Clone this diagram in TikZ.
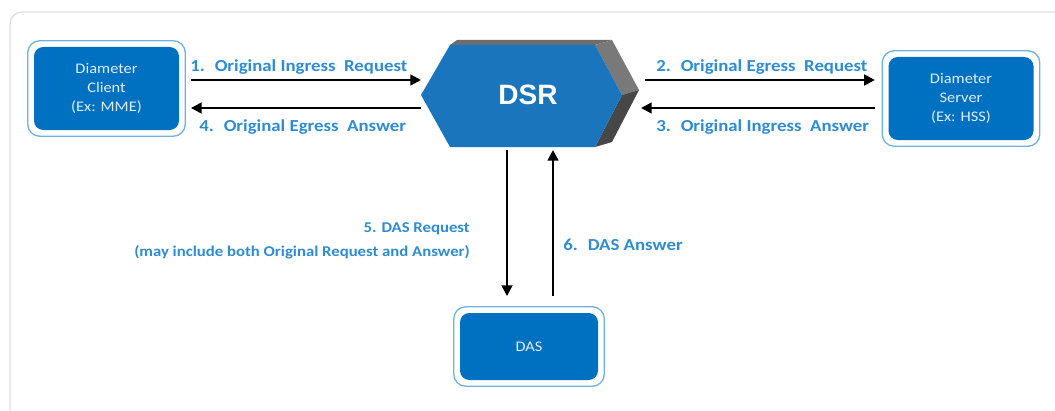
\documentclass[tikz,border=0pt]{standalone}
\usepackage{fontspec}
\setmainfont[FakeStretch=1.12]{Carlito}
\newfontfamily\dsrfont{Liberation Sans}
\usetikzlibrary{arrows.meta,fit}

\definecolor{boxblue}{RGB}{0,112,192}
\definecolor{ringblue}{RGB}{110,178,228}
\definecolor{dsrblue}{RGB}{27,117,188}
\definecolor{labelblue}{RGB}{45,140,210}
\definecolor{framegray}{RGB}{222,222,222}

\begin{document}
\begin{tikzpicture}[x=0.75pt,y=-0.75pt,
    unitbox/.style={fill=boxblue, rounded corners=7pt, minimum width=108.75pt, minimum height=62.25pt,
                    text=white!88!boxblue, align=center, inner sep=0pt, font=\fontsize{11}{14.25}\selectfont},
    ring/.style={draw=ringblue, line width=1pt, rounded corners=9pt, inner sep=4.5pt},
    flow/.style={line width=1.8pt, -{Triangle[length=8pt,width=8pt]}},
    msg/.style={text=labelblue, inner sep=0pt, font=\fontsize{12.6}{14}\selectfont\bfseries}
    ]
    \useasboundingbox (0,0) rectangle (1055,410);
    \draw[framegray, line width=1pt, rounded corners=9pt] (1060,12) -- (10,12) -- (10,415);

    % end systems
    \node[unitbox] (client) at (106.5,88.5) {Diameter\\Client\\(Ex: MME)};
    \node[unitbox] (server) at (961,98.5) {Diameter\\Server\\(Ex: HSS)};
    \node[unitbox, minimum width=103.5pt, minimum height=50.25pt] (das) at (529,346.5) {DAS};
    \node[ring, fit=(client)] (clientring) {};
    \node[ring, fit=(server)] (serverring) {};
    \node[ring, fit=(das)] (dasring) {};

    % DSR block
    \fill[gray!85!black] (450,45) -- (457,40) -- (612,40) -- (595,45) -- cycle;
    \fill[gray!95!black] (595,45) -- (612,40) -- (639,90) -- (622,95) -- cycle;
    \fill[black!72] (622,95) -- (639,90) -- (612,142) -- (595,147) -- cycle;
    \fill[dsrblue] (421,95) -- (450,45) -- (595,45) -- (622,95) -- (595,147) -- (450,147) -- cycle;
    \node[text=white, font=\dsrfont\fontsize{21}{24}\selectfont\bfseries] (dsr) at (528,95) {DSR};

    \coordinate (inW) at (421,80);
    \coordinate (outW) at (421,108);
    \coordinate (outE) at (645,80);
    \coordinate (inE) at (641,108);
    \coordinate (outS) at (507,150);
    \coordinate (inS) at (553,150);

    \draw[flow, shorten <=3.75pt] (clientring.east |- inW) -- (inW);
    \draw[flow, shorten >=3.75pt] (outW) -- (clientring.east |- outW);
    \draw[flow, shorten >=5pt] (outE) -- (serverring.west |- outE);
    \draw[flow, shorten <=5pt] (serverring.west |- inE) -- (inE);
    \draw[flow, shorten >=7.5pt] (outS) -- (dasring.north -| outS);
    \draw[flow, shorten <=7.5pt] (dasring.north -| inS) -- (inS);

    \node[msg, anchor=base west] (m1) at (190,71) {1.~ Original Ingress~ Request};
    \node[msg, anchor=base west] (m2) at (656,71) {2.~ Original Egress~ Request};
    \node[msg, anchor=base west] (m3) at (656,131) {3.~ Original Ingress~ Answer};
    \node[msg, anchor=base west] (m4) at (199,131) {4.~ Original Egress~ Answer};
    \node[msg, anchor=east, align=right, font=\fontsize{11.2}{18}\selectfont\bfseries] (m5) at (470,241)
        {5. DAS Request\\(may include both Original Request and Answer)};
    \node[msg, anchor=base west] (m6) at (563,250) {6.~ DAS Answer};
\end{tikzpicture}
\end{document}
